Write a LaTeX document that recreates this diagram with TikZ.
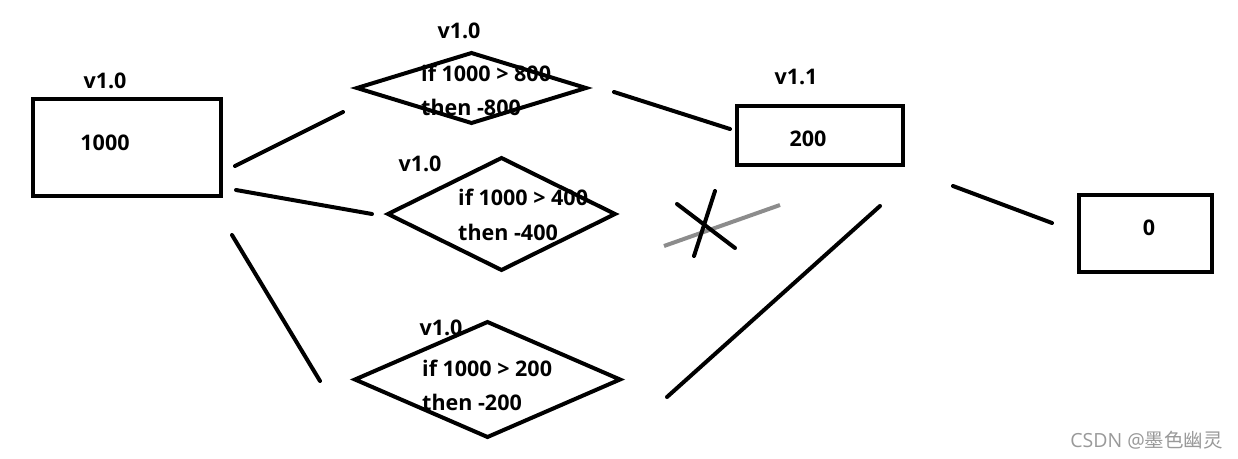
\documentclass[tikz,border=0pt]{standalone}
\usepackage{fontspec}
\setmainfont{Open Sans}
\newfontfamily\cjk{Noto Sans CJK SC}
\usetikzlibrary{shapes.geometric}
\begin{document}
\begin{tikzpicture}[x=1pt,y=-1pt,
  thick4/.style={line width=4pt},
  box/.style={draw,thick4,rectangle,inner sep=0,outer sep=0},
  dia/.style={draw,thick4,diamond,inner sep=0,outer sep=0},
  lbl/.style={font=\bfseries\fontsize{21.5}{26}\selectfont,inner sep=0},
  txt/.style={lbl,anchor=west},
  conn/.style={thick4,line cap=round}]
\useasboundingbox[fill=white] (0,0) rectangle (1238,458);
% boxes
\node[box,minimum width=188pt,minimum height=97pt] (a) at (127,147.5) {};
\node[box,minimum width=166pt,minimum height=59pt] (b) at (820,135.5) {};
\node[box,minimum width=133pt,minimum height=77pt] (c) at (1145.5,233.5) {};
\node[lbl] (ta) at (105,143) {1000};
\node[lbl] (la) at (105,81) {v1.0};
\node[lbl] (tb) at (808,139) {200};
\node[lbl] (lb) at (796,77) {v1.1};
\node[lbl] (tc) at (1149,228) {0};
% diamonds
\node[dia,minimum width=229pt,minimum height=70pt] (d1) at (471.5,88) {};
\node[dia,minimum width=227pt,minimum height=112pt] (d2) at (501.5,214) {};
\node[dia,minimum width=265pt,minimum height=115pt] (d3) at (487.5,379.5) {};
\node[lbl] (l1) at (459,31) {v1.0};
\node[lbl] (l2) at (420,164) {v1.0};
\node[lbl] (l3) at (441,328) {v1.0};
\node[txt] (t1a) at (421,73) {if 1000 > 800};
\node[txt] (t1b) at (421,107) {then -800};
\node[txt] (t2a) at (458,197) {if 1000 > 400};
\node[txt] (t2b) at (458,232) {then -400};
\node[txt] (t3a) at (422,368) {if 1000 > 200};
\node[txt] (t3b) at (422,402) {then -200};
% connector ends
\coordinate (p1) at (235,166); \coordinate (q1) at (343,112);
\coordinate (p2) at (236,190); \coordinate (q2) at (372,214);
\coordinate (p3) at (232,235); \coordinate (q3) at (320,381);
\coordinate (p4) at (614,92);  \coordinate (q4) at (730,129);
\coordinate (p5) at (667,397); \coordinate (q5) at (880,206);
\coordinate (p6) at (953,186); \coordinate (q6) at (1052,223);
\draw[conn] (p1) -- (q1);
\draw[conn] (p2) -- (q2);
\draw[conn] (p3) -- (q3);
\draw[conn] (p4) -- (q4);
\draw[conn] (p5) -- (q5);
\draw[conn] (p6) -- (q6);
% crossed-out link
\coordinate (g1) at (664,246); \coordinate (g2) at (780,205);
\coordinate (x1) at (677,204); \coordinate (x2) at (735,248);
\coordinate (y1) at (715,191); \coordinate (y2) at (694,256);
\draw[line width=4pt,color=gray!90] (g1) -- (g2);
\draw[conn] (x1) -- (x2);
\draw[conn] (y1) -- (y2);
% watermark
\node[inner sep=0,anchor=east,text=black!40,font=\fontsize{19.5}{21}\selectfont] (wm) at (1223,440) {CSDN @{\cjk 墨色幽灵}};
\end{tikzpicture}
\end{document}
